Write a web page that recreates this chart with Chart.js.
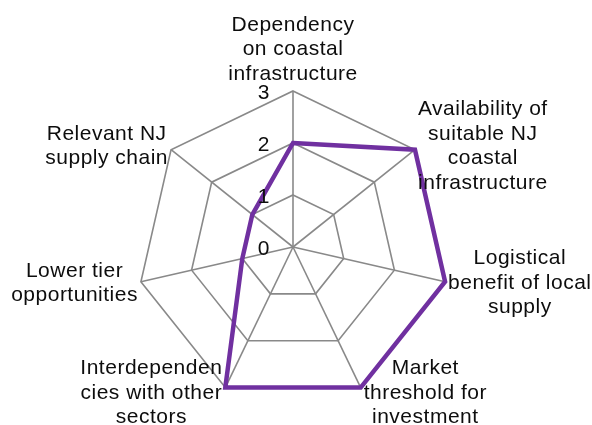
<!DOCTYPE html>
<html>
<head>
<meta charset="utf-8">
<script src="https://cdn.jsdelivr.net/npm/chart.js@4/dist/chart.umd.min.js"></script>
<style>
  html, body { margin: 0; padding: 0; background: #ffffff; }
  #wrap { width: 592px; height: 425px; }
</style>
</head>
<body>
<div id="wrap"><canvas id="c" width="592" height="425"></canvas></div>
<script>
// ---- data ----
const categories = [
  ["Dependency", "on coastal", "infrastructure"],
  ["Availability of", "suitable NJ", "coastal", "infrastructure"],
  ["Logistical", "benefit of local", "supply"],
  ["Market", "threshold for", "investment"],
  ["Interdependen", "cies with other", "sectors"],
  ["Lower tier", "opportunities"],
  ["Relevant NJ", "supply chain"]
];
const scores = [2, 3, 3, 3, 3, 1, 1];
const tickValues = [0, 1, 2, 3];
const tickLabels = ["0", "1", "2", "3"];

// ---- styles ----
const FONT = '21px "Liberation Sans", Arial, sans-serif';
const TEXT_COLOR = '#0d0d0d';
const LINE_H = 24.5;

const labelPlugin = {
  id: 'excelLabels',
  afterDatasetsDraw(chart) {
    const scale = chart.scales.r;
    const ctx = chart.ctx;
    ctx.save();
    ctx.font = FONT;
    ctx.fillStyle = TEXT_COLOR;
    try { ctx.letterSpacing = '0.5px'; } catch (e) {}
    ctx.textBaseline = 'middle';

    // tick labels, left of the vertical axis
    ctx.textAlign = 'right';
    tickValues.forEach((v, k) => {
      const d = scale.getDistanceFromCenterForValue(v);
      ctx.fillText(tickLabels[k], scale.xCenter - 23, scale.yCenter - d + 2);
    });

    // point labels
    const R = scale.drawingArea;
    chart.data.labels.forEach((lines, i) => {
      const v = scale.getPointPosition(i, R);
      const dx = (v.x - scale.xCenter) / R;
      const dy = (v.y - scale.yCenter) / R;
      const H = lines.length * LINE_H;
      const W = Math.max(...lines.map(l => ctx.measureText(l).width));
      let cx, cy;
      if (Math.abs(dx) < 0.01) {
        cx = v.x;
        cy = dy < 0 ? v.y - 5 - H / 2 : v.y + 5 + H / 2;
      } else {
        cy = v.y + dy * 6;
        cx = dx > 0 ? v.x + 3 + W / 2 : v.x - 3 - W / 2;
      }
      ctx.textAlign = 'center';
      lines.forEach((l, j) => {
        ctx.fillText(l, cx, cy - H / 2 + LINE_H * (j + 0.5));
      });
    });
    ctx.restore();
  }
};

new Chart(document.getElementById('c'), {
  type: 'radar',
  data: {
    labels: categories,
    datasets: [{
      data: scores,
      borderColor: '#7030A0',
      borderWidth: 4.5,
      pointRadius: 0,
      pointHoverRadius: 0,
      fill: false,
      tension: 0
    }]
  },
  options: {
    responsive: false,
    animation: false,
    layout: { padding: { left: 137, right: 143, top: 91, bottom: 22 } },
    plugins: { legend: { display: false }, tooltip: { enabled: false } },
    scales: {
      r: {
        min: 0,
        max: 3,
        ticks: { display: false, stepSize: 1 },
        grid: { color: '#898989', lineWidth: 1.6 },
        angleLines: { color: '#898989', lineWidth: 1.6 },
        pointLabels: { display: false }
      }
    }
  },
  plugins: [labelPlugin]
});
</script>
</body>
</html>
